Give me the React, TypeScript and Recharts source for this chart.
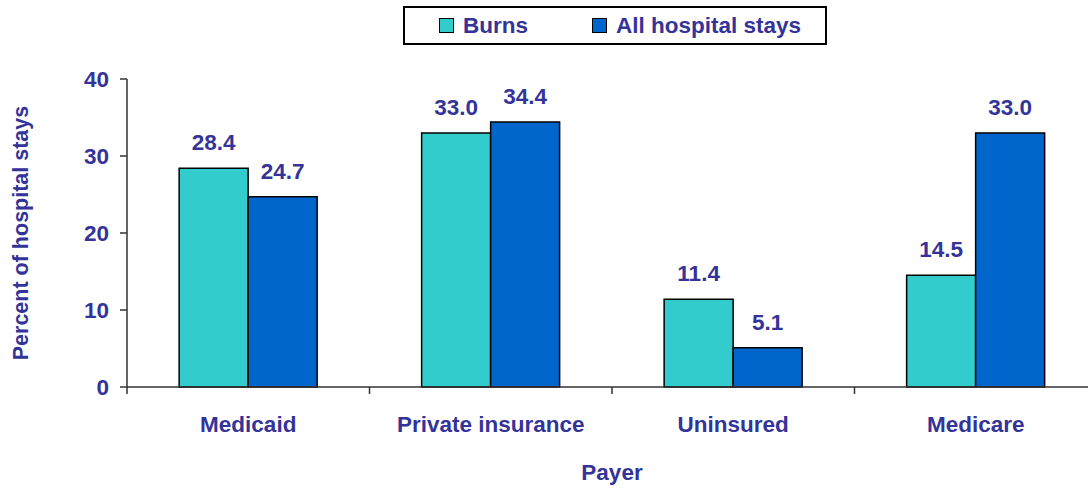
import React from "react";
import { BarChart, Bar, XAxis, YAxis, Legend, LabelList, Label } from "recharts";

const payers = ["Medicaid", "Private insurance", "Uninsured", "Medicare"];
const burns = [28.4, 33.0, 11.4, 14.5];
const allStays = [24.7, 34.4, 5.1, 33.0];
const yTicks = [0, 10, 20, 30, 40];

const data = payers.map((name, i) => ({ name, burns: burns[i], all: allStays[i] }));

const TXT = "#333399";
const FONT = "'Liberation Sans', Arial, sans-serif";
const FS = 22.5;
const HALF_BAND = 121.25;

const CatTick = (props: any) => {
  const { x, y, payload, index } = props;
  return (
    <g>
      <line x1={x - HALF_BAND} y1={y} x2={x - HALF_BAND} y2={y + 7} stroke="#333" strokeWidth={1.5} />
      {index === payers.length - 1 && (
        <line x1={x + HALF_BAND} y1={y} x2={x + HALF_BAND} y2={y + 7} stroke="#333" strokeWidth={1.5} />
      )}
      <text x={x} y={y + 45} textAnchor="middle" fill={TXT} fontSize={FS} fontWeight="bold" fontFamily={FONT}>
        {payload.value}
      </text>
    </g>
  );
};

const LegendBox = () => (
  <div
    style={{
      width: 420,
      height: 35,
      border: "2px solid #000",
      display: "flex",
      alignItems: "center",
      fontFamily: FONT,
      fontWeight: "bold",
      fontSize: FS,
      color: TXT,
      background: "#fff",
    }}
  >
    <span style={{ width: 13, height: 13, background: "#33CCCC", border: "1px solid #000", marginLeft: 34 }} />
    <span style={{ marginLeft: 9 }}>Burns</span>
    <span style={{ width: 13, height: 13, background: "#0066CC", border: "1px solid #000", marginLeft: 64 }} />
    <span style={{ marginLeft: 9 }}>All hospital stays</span>
  </div>
);

export default function App() {
  return (
    <div style={{ position: "absolute", left: 0, top: 0, width: 1088, height: 489, overflow: "hidden", background: "#fff" }}>
      <BarChart
        width={1100}
        height={489}
        data={data}
        margin={{ top: 40, right: 3, bottom: 0, left: 0 }}
        barCategoryGap="21.5%"
        barGap={0}
      >
        <YAxis
          width={127}
          domain={[0, 40]}
          ticks={yTicks}
          interval={0}
          tickSize={7}
          tickMargin={11}
          axisLine={{ stroke: "#333", strokeWidth: 1.5 }}
          tickLine={{ stroke: "#333", strokeWidth: 1.5 }}
          tick={{ fill: TXT, fontSize: FS, fontWeight: "bold", fontFamily: FONT }}
        >
          <Label
            content={({ viewBox }: any) => {
              const cy = viewBox.y + viewBox.height / 2;
              return (
                <text
                  x={21}
                  y={cy}
                  transform={`rotate(-90 21 ${cy})`}
                  textAnchor="middle"
                  dominantBaseline="central"
                  fill={TXT}
                  fontSize={21.5}
                  fontWeight="bold"
                  fontFamily={FONT}
                >
                  Percent of hospital stays
                </text>
              );
            }}
          />
        </YAxis>
        <XAxis
          dataKey="name"
          height={102}
          interval={0}
          tickSize={0}
          tickMargin={0}
          tickLine={false}
          axisLine={{ stroke: "#333", strokeWidth: 1.5 }}
          tick={<CatTick />}
        >
          <Label
            value="Payer"
            position="insideBottom"
            offset={9}
            fill={TXT}
            fontSize={FS}
            fontWeight="bold"
            fontFamily={FONT}
          />
        </XAxis>
        <Legend
          verticalAlign="top"
          align="left"
          content={<LegendBox />}
          wrapperStyle={{ top: 6, left: 403, width: 424 }}
        />
        <Bar dataKey="burns" name="Burns" fill="#33CCCC" stroke="#000" strokeWidth={1.5} isAnimationActive={false}>
          <LabelList
            dataKey="burns"
            position="top"
            offset={18}
            formatter={(v: any) => Number(v).toFixed(1)}
            fill={TXT}
            fontSize={FS}
            fontWeight="bold"
            fontFamily={FONT}
          />
        </Bar>
        <Bar dataKey="all" name="All hospital stays" fill="#0066CC" stroke="#000" strokeWidth={1.5} isAnimationActive={false}>
          <LabelList
            dataKey="all"
            position="top"
            offset={18}
            formatter={(v: any) => Number(v).toFixed(1)}
            fill={TXT}
            fontSize={FS}
            fontWeight="bold"
            fontFamily={FONT}
          />
        </Bar>
      </BarChart>
    </div>
  );
}
